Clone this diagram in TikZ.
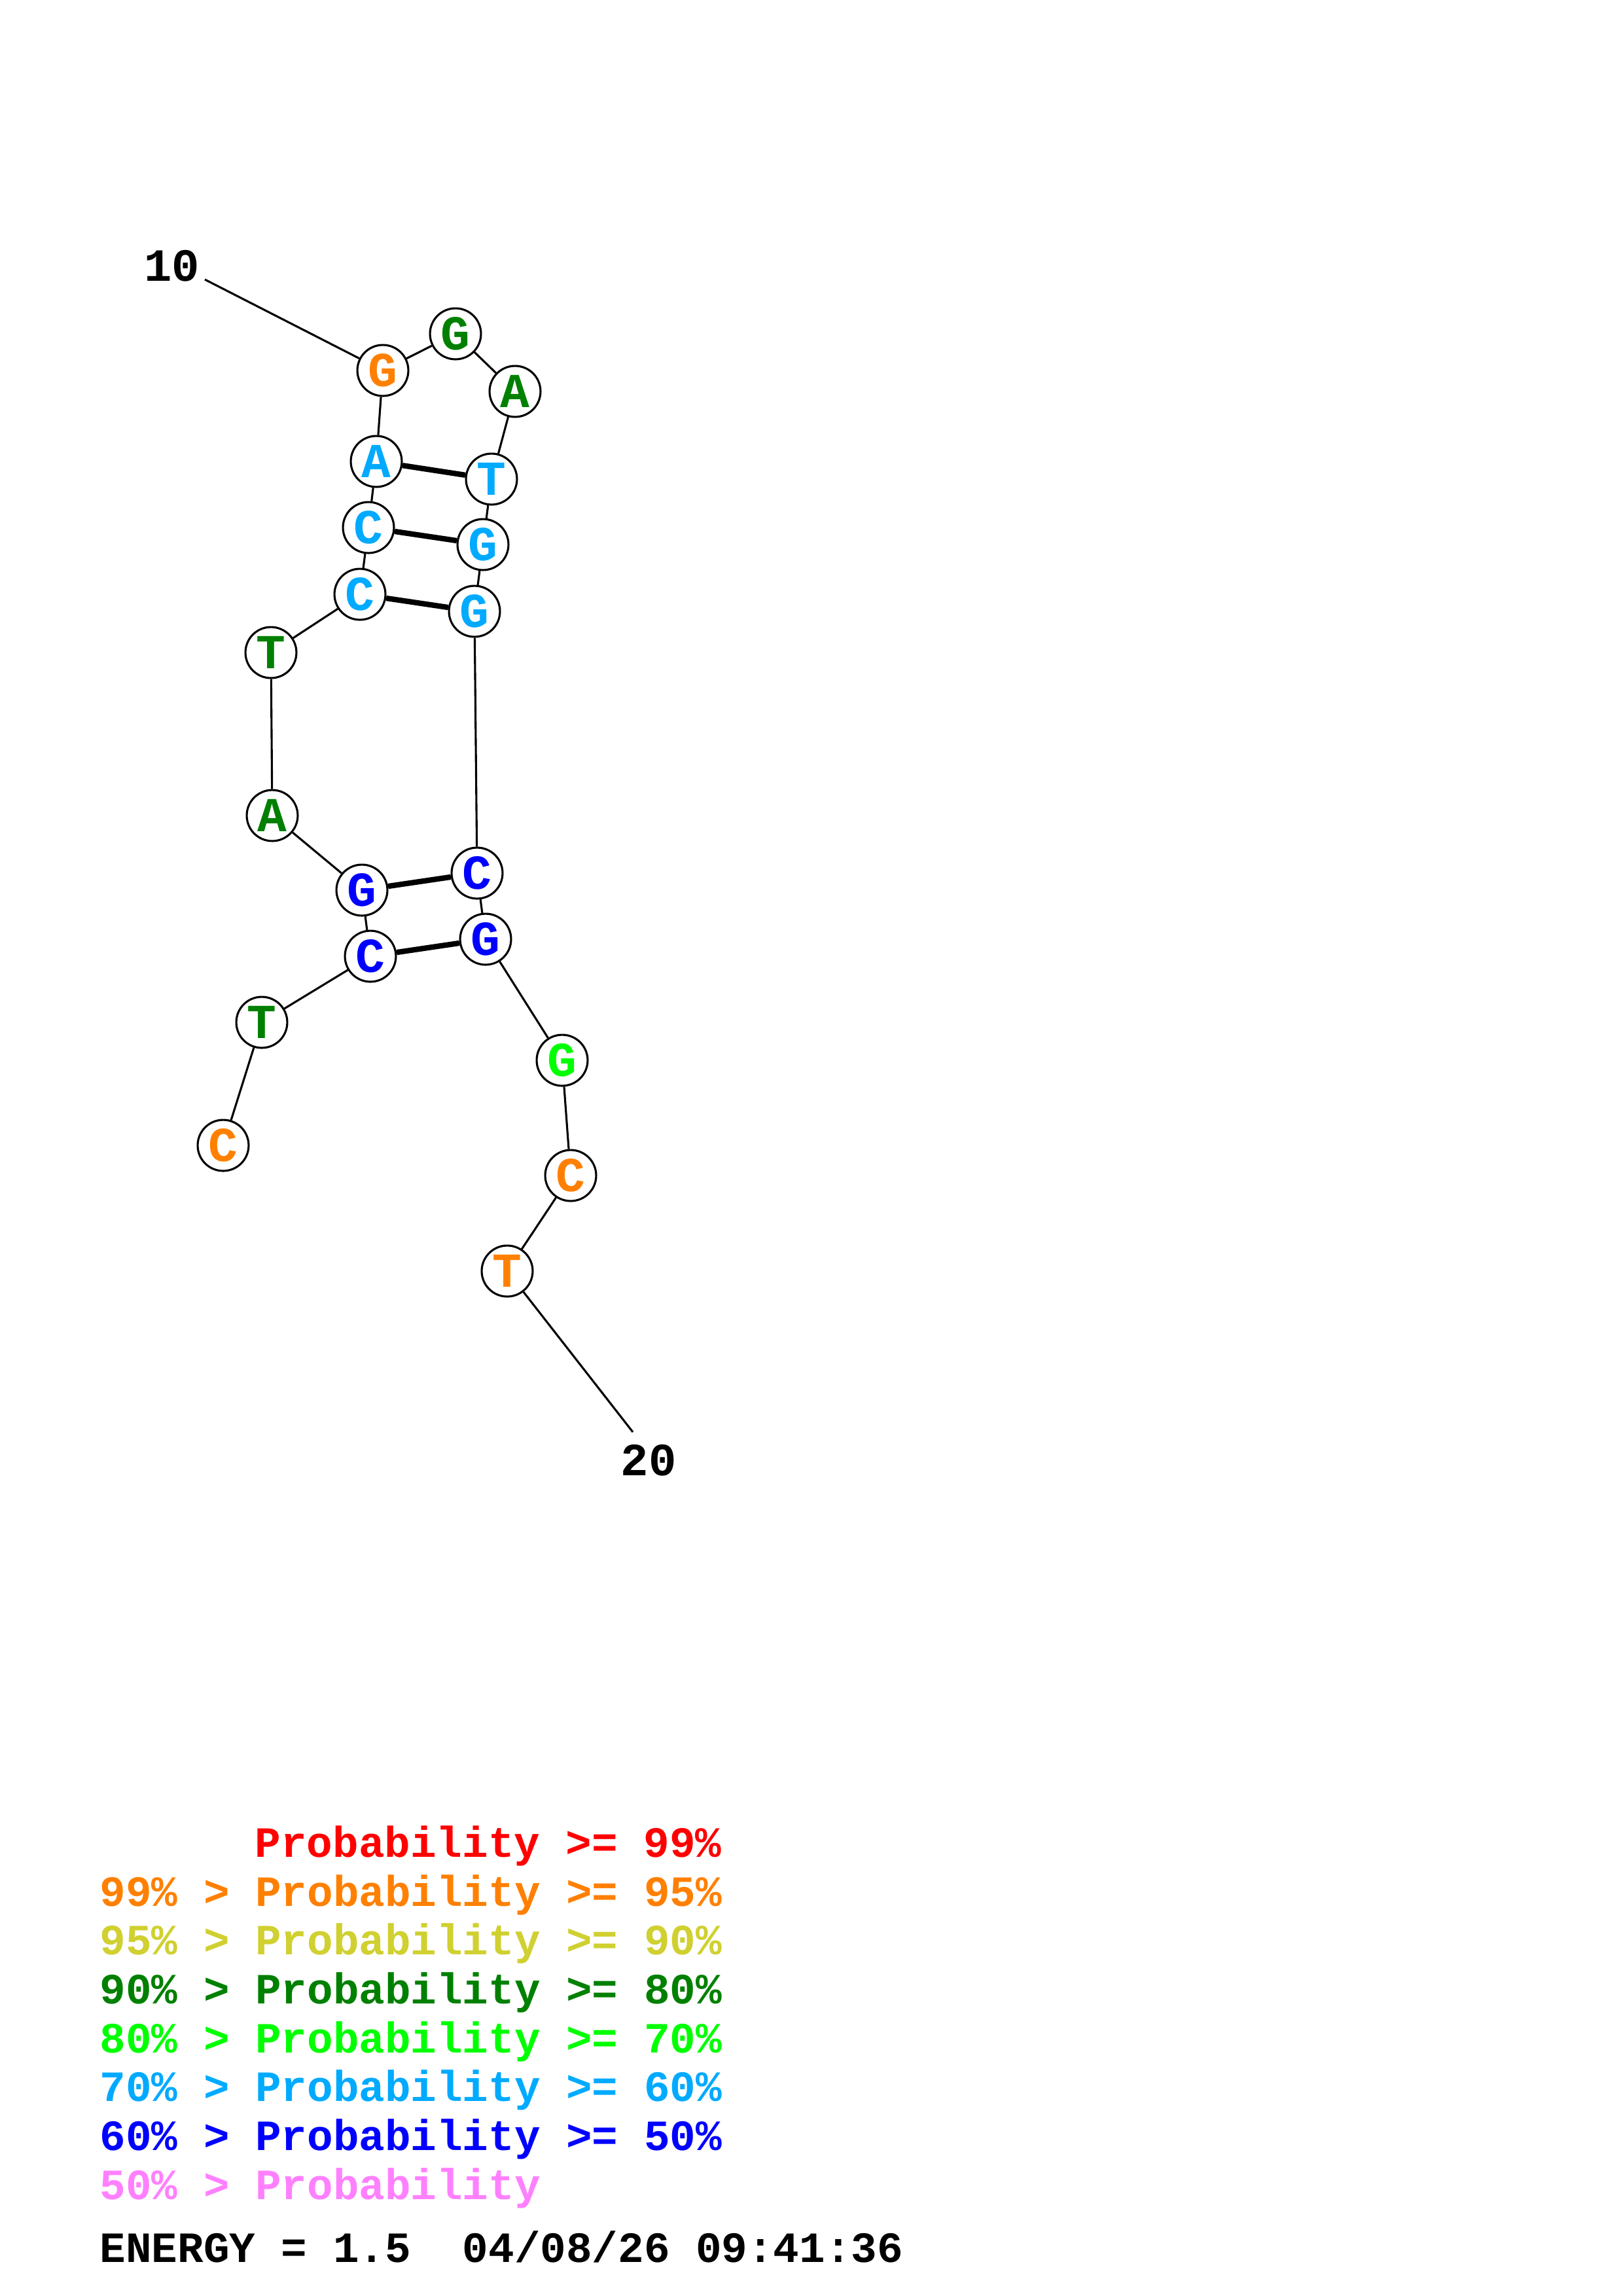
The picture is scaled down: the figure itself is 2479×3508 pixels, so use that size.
\documentclass[tikz,border=0pt]{standalone}
\usepackage{fontspec}
\setmonofont{Liberation Mono}
\definecolor{corange}{RGB}{255,128,0}
\definecolor{cgreen}{RGB}{0,128,0}
\definecolor{clblue}{RGB}{0,170,255}
\definecolor{cblue}{RGB}{0,0,255}
\definecolor{cbright}{RGB}{0,255,0}
\definecolor{cyellow}{RGB}{208,208,48}
\definecolor{cpink}{RGB}{255,128,255}
\definecolor{cred}{RGB}{255,0,0}
\begin{document}
\begin{tikzpicture}[x=0.08471mm,y=-0.08471mm,
  base/.style={circle,draw=black,line width=0.75pt,fill=white,minimum size=6.6mm,inner sep=0pt,
    font=\ttfamily\bfseries\fontsize{18}{18}\selectfont},
  bb/.style={line width=0.75pt},
  pairline/.style={line width=2pt},
  lbl/.style={font=\ttfamily\bfseries\fontsize{17}{17}\selectfont,inner sep=0pt},
  leg/.style={anchor=base west,inner sep=0pt,font=\ttfamily\bfseries\fontsize{15.9}{16}\selectfont}]
\useasboundingbox[fill=white] (0,0) rectangle (2479,3508);
% nodes
\node[base,text=corange] (n1) at (585,566) {G};
\node[base,text=cgreen] (n2) at (696,510) {G};
\node[base,text=cgreen] (n3) at (787,598) {A};
\node[base,text=clblue] (n4) at (751,732) {T};
\node[base,text=clblue] (n5) at (738,832) {G};
\node[base,text=clblue] (n6) at (725,934) {G};
\node[base,text=cblue] (n7) at (729,1334) {C};
\node[base,text=cblue] (n8) at (742,1435) {G};
\node[base,text=cbright] (n9) at (859,1620) {G};
\node[base,text=corange] (n10) at (872,1796) {C};
\node[base,text=corange] (n11) at (775,1942) {T};
\node[base,text=clblue] (m1) at (575,705) {A};
\node[base,text=clblue] (m2) at (563,806) {C};
\node[base,text=clblue] (m3) at (550,908) {C};
\node[base,text=cgreen] (m4) at (414,997) {T};
\node[base,text=cgreen] (m5) at (416,1246) {A};
\node[base,text=cblue] (m6) at (553,1360) {G};
\node[base,text=cblue] (m7) at (566,1461) {C};
\node[base,text=cgreen] (m8) at (400,1562) {T};
\node[base,text=corange] (m9) at (341,1750) {C};
\node[lbl] (l10) at (263,406) {10};
\node[lbl] (l20) at (991,2231) {20};
\coordinate (e10) at (313,427);
\coordinate (e20) at (967,2188);
% backbone
\draw[bb] (e10) -- (n1);
\draw[bb] (n1) -- (n2);
\draw[bb] (n2) -- (n3);
\draw[bb] (n3) -- (n4);
\draw[bb] (n4) -- (n5);
\draw[bb] (n5) -- (n6);
\draw[bb] (n6) -- (n7);
\draw[bb] (n7) -- (n8);
\draw[bb] (n8) -- (n9);
\draw[bb] (n9) -- (n10);
\draw[bb] (n10) -- (n11);
\draw[bb] (n11) -- (e20);
\draw[bb] (n1) -- (m1);
\draw[bb] (m1) -- (m2);
\draw[bb] (m2) -- (m3);
\draw[bb] (m3) -- (m4);
\draw[bb] (m4) -- (m5);
\draw[bb] (m5) -- (m6);
\draw[bb] (m6) -- (m7);
\draw[bb] (m7) -- (m8);
\draw[bb] (m8) -- (m9);
% pairs
\draw[pairline] (m1) -- (n4);
\draw[pairline] (m2) -- (n5);
\draw[pairline] (m3) -- (n6);
\draw[pairline] (m6) -- (n7);
\draw[pairline] (m7) -- (n8);
% legend
\node[leg,text=cred] (g1) at (389,2837) {Probability >= 99\%};
\node[leg,text=corange] (g2) at (152,2912) {99\% > Probability >= 95\%};
\node[leg,text=cyellow] (g3) at (152,2986) {95\% > Probability >= 90\%};
\node[leg,text=cgreen] (g4) at (152,3061) {90\% > Probability >= 80\%};
\node[leg,text=cbright] (g5) at (152,3136) {80\% > Probability >= 70\%};
\node[leg,text=clblue] (g6) at (152,3210) {70\% > Probability >= 60\%};
\node[leg,text=cblue] (g7) at (152,3285) {60\% > Probability >= 50\%};
\node[leg,text=cpink] (g8) at (152,3360) {50\% > Probability};
\node[leg,text=black] (g9) at (152,3456) {ENERGY = 1.5~ 04/08/26 09:41:36};
\end{tikzpicture}
\end{document}
